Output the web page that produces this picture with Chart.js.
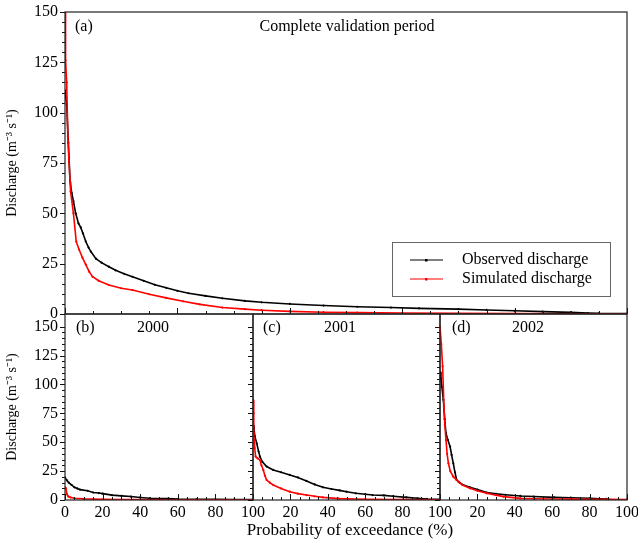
<!DOCTYPE html>
<html>
<head>
<meta charset="utf-8">
<script src="https://cdn.jsdelivr.net/npm/chart.js@4.4.1/dist/chart.umd.min.js"></script>
<style>
  body { margin:0; background:#fff; }
  #wrap { position:relative; width:638px; height:547px; overflow:hidden; }
  #wrap canvas { position:absolute; left:0; top:0; }
  #xt { position:absolute; left:200px; width:300px; top:520px; line-height:20px; text-align:center;
        font-family:"Liberation Serif", "Times New Roman", serif; font-size:17px; color:#000; }
</style>
</head>
<body>
<div id="wrap">
  <canvas id="ca" width="638" height="547"></canvas>
  <canvas id="cb" width="638" height="547"></canvas>
  <canvas id="cc" width="638" height="547"></canvas>
  <canvas id="cd" width="638" height="547"></canvas>
  <div id="xt"></div>
</div>
<script>
// ---------- texts ----------
const seriesNames = ['Observed discharge', 'Simulated discharge'];
const panelLabels = ['(a)', '(b)', '(c)', '(d)'];
const panelTitles = ['Complete validation period', '2000', '2001', '2002'];
const yTitle = 'Discharge (m\u207B\u00B3 s\u207B\u00B9)';
const xTitle = 'Probability of exceedance (%)';
const xTickStep = 20;
const yTickStep = 25;

// ---------- (a) complete validation period ----------
const pctObsA = [0, 0.1, 0.3, 0.6, 0.9, 1.2, 1.5, 1.9, 2.4, 2.8, 3.2, 3.7, 4.2, 4.6, 5.5, 6.5, 7.8, 9, 10.5, 12, 14, 16, 18, 20, 22, 25, 28, 32, 35, 40, 46, 52, 58, 63, 70, 75, 80, 85, 90, 93, 95, 100];
const obsA    = [111, 111, 104, 85, 66, 60, 56, 50, 45, 43, 40, 36, 33, 31, 27.5, 25.5, 23.5, 21.7, 20, 18.5, 16.5, 14.5, 13, 11.5, 10.3, 9, 7.8, 6.5, 5.8, 5, 4.2, 3.6, 3.2, 2.8, 2.4, 2, 1.6, 1.2, 0.8, 0.5, 0.3, 0.2];
const pctSimA = [0, 0.1, 0.3, 0.5, 0.7, 0.9, 1, 1.5, 2, 2.5, 3.1, 3.7, 4.3, 4.9, 6, 7.8, 10, 12, 15, 18, 21, 24, 28, 32, 35, 40, 46, 52, 60, 70, 80, 90, 100];
const simA    = [150, 126, 115, 88, 76.5, 65.7, 60.8, 50, 36, 32, 28, 24.5, 21, 18.5, 16.5, 14.4, 12.8, 11.9, 9.8, 8, 6.3, 4.8, 3.2, 2.4, 1.9, 1.3, 0.9, 0.7, 0.5, 0.35, 0.25, 0.15, 0.05];

// ---------- (b) 2000 ----------
const pctObsB = [0, 1, 2, 3.5, 5, 6.5, 8, 12, 15, 18, 20, 25, 30, 35, 40, 45, 55, 60, 70, 80, 90, 100];
const obsB    = [19.5, 17, 15, 13, 11, 10, 9, 8, 6.5, 6, 5.5, 4.2, 3.6, 3, 2.2, 1.5, 1.2, 0.8, 0.6, 0.5, 0.4, 0.3];
const pctSimB = [0, 0.5, 1, 1.8, 3, 5, 10, 20, 30, 40, 60, 80, 100];
const simB    = [11, 10, 5, 3, 2.2, 1.5, 1, 0.6, 0.4, 0.3, 0.2, 0.15, 0.1];

// ---------- (c) 2001 ----------
const pctObsC = [0, 0.5, 1, 2, 3, 3.7, 5, 7.3, 10.8, 15, 19.7, 24, 28.6, 33, 37.4, 42, 46.3, 50, 55, 60, 64, 70, 75, 82, 88, 93, 100];
const obsC    = [65, 62, 55, 49, 42, 37.6, 33, 29, 26, 24, 21.7, 19.5, 16.5, 13.5, 11, 9.5, 8.3, 7.2, 5.8, 5, 4.3, 4, 3.3, 2.3, 1.5, 0.9, 0.5];
const pctSimC = [0, 0.3, 0.5, 0.9, 1.4, 2.5, 3.7, 4.5, 5.5, 6.4, 7.3, 9, 10.8, 15, 19.7, 24, 28.6, 33, 37.4, 46, 60, 80, 100];
const simC    = [86.7, 75, 58, 45, 37.6, 36, 34.7, 30, 26, 21, 17.3, 15, 13, 10, 7.2, 5.5, 4.3, 3.2, 2.3, 1.2, 0.6, 0.4, 0.2];

// ---------- (d) 2002 ----------
const pctObsD = [0, 0.5, 1, 1.8, 2.5, 3.2, 4.2, 5.4, 6.2, 7.1, 8, 8.9, 10.5, 12.5, 16, 20, 25, 30, 35, 43, 50, 61, 70, 80, 89, 91, 100];
const obsD    = [111, 105, 98, 86.7, 70, 57.8, 52, 46.2, 39, 31.8, 24, 17.3, 15, 13, 11, 9, 6.4, 5.3, 4.5, 3.5, 3, 2.3, 2, 1.5, 0.9, 0.2, 0.2];
const pctSimD = [0, 0.7, 1.4, 2.1, 2.6, 3.2, 3.8, 4.5, 5.5, 7.1, 9.8, 12, 16, 20, 25, 30, 34, 43, 50, 60, 70, 80, 90, 100];
const simD    = [150, 135, 115.6, 81, 65, 52, 40, 31.8, 25, 20.2, 15.9, 13, 10.1, 8, 5.8, 4.2, 2.9, 1.4, 1.1, 0.9, 0.8, 0.7, 0.5, 0.3];

// ---------- helpers ----------
const FONT = '"Liberation Serif", "Times New Roman", serif';
Chart.defaults.font.family = FONT;
Chart.defaults.color = '#000';
const W = 638, H = 547;
const pts = (xs, ys) => xs.map((x, i) => ({ x: x, y: ys[i] }));

const deco = {
  id: 'deco',
  afterDraw(chart, args, o) {
    const ctx = chart.ctx, a = chart.chartArea;
    const xs = chart.scales.x, ys = chart.scales.y;
    ctx.save();
    ctx.strokeStyle = '#111';
    ctx.lineWidth = 1;
    ctx.beginPath();
    for (let v = 0; v <= 100 + 1e-9; v += 5) {
      const px = Math.round(xs.getPixelForValue(v)) + 0.5;
      const len = (v % xTickStep === 0) ? 6 : 3;
      ctx.moveTo(px, a.bottom); ctx.lineTo(px, a.bottom - len);
    }
    for (let v = 0; v <= 150 + 1e-9; v += 5) {
      const py = Math.round(ys.getPixelForValue(v)) + 0.5;
      const len = (v % yTickStep === 0) ? 5 : 3;
      ctx.moveTo(a.left, py); ctx.lineTo(a.left - len, py);
    }
    ctx.stroke();
    ctx.strokeStyle = '#222';
    ctx.lineWidth = 1.2;
    ctx.strokeRect(a.left, a.top, a.right - a.left, a.bottom - a.top);

    ctx.fillStyle = '#000';
    ctx.font = '16px ' + FONT;
    ctx.textBaseline = 'middle';
    ctx.textAlign = 'left';
    ctx.fillText(o.label, o.labelX, o.labelY);
    ctx.textAlign = 'center';
    ctx.fillText(o.title, o.titleX, o.labelY);

    if (o.legend) {
      ctx.strokeStyle = '#666';
      ctx.lineWidth = 1;
      ctx.strokeRect(392.5, 242.5, 218, 54);
      chart.data.datasets.slice().sort((p, q) => p.legendOrder - q.legendOrder).forEach((ds, i) => {
        const y = 260 + i * 19;
        ctx.strokeStyle = ds.borderColor;
        ctx.lineWidth = 1.2;
        ctx.beginPath(); ctx.moveTo(410, y); ctx.lineTo(443, y); ctx.stroke();
        ctx.fillStyle = ds.borderColor;
        ctx.fillRect(425, y - 1, 2.5, 2.5);
        ctx.fillStyle = '#000';
        ctx.textAlign = 'left';
        ctx.fillText(ds.label, 462, y);
      });
    }
    ctx.restore();
  }
};

function makeChart(id, p) {
  const yw = p.showY ? 65 : 0;
  const xh = H - p.area.bottom;
  new Chart(document.getElementById(id), {
    type: 'line',
    data: {
      datasets: [
        { label: seriesNames[1], legendOrder: 1, data: pts(p.pctSim, p.sim), borderColor: '#ff0000', backgroundColor: '#ff0000',
          borderWidth: 1.6, pointRadius: 1.1, pointBorderWidth: 0, pointBackgroundColor: '#ff0000', tension: 0, fill: false },
        { label: seriesNames[0], legendOrder: 0, data: pts(p.pctObs, p.obs), borderColor: '#000000', backgroundColor: '#000000',
          borderWidth: 1.6, pointRadius: 1.1, pointBorderWidth: 0, pointBackgroundColor: '#000000', tension: 0, fill: false }
      ]
    },
    options: {
      responsive: false,
      animation: false,
      devicePixelRatio: 1,
      layout: { padding: { left: p.area.left - yw, top: p.area.top, right: W - p.area.right, bottom: 0 } },
      plugins: {
        legend: { display: false },
        tooltip: { enabled: false },
        deco: p.deco
      },
      scales: {
        x: {
          type: 'linear', min: 0, max: 100,
          afterFit(s) { s.height = xh; s.paddingLeft = 0; s.paddingRight = 0; },
          grid: { display: false, drawTicks: false },
          border: { display: false },
          ticks: {
            display: p.showX, stepSize: xTickStep, autoSkip: false, maxRotation: 0, padding: 3,
            color: '#000', font: { family: FONT, size: 16 },
            callback: v => (p.hideZero && v === 0) ? '' : String(v)
          }
        },
        y: {
          type: 'linear', min: 0, max: p.yMax,
          afterFit(s) { s.width = yw; s.paddingTop = 0; s.paddingBottom = 0; },
          grid: { display: false, drawTicks: false },
          border: { display: false },
          ticks: {
            display: p.showY, stepSize: yTickStep, includeBounds: false, padding: 7,
            color: '#000', font: { family: FONT, size: 16 }
          },
          title: {
            display: p.showY, text: yTitle, color: '#000',
            font: { family: FONT, size: 14 }, padding: { top: 4, bottom: 0 }
          }
        }
      }
    },
    plugins: [deco]
  });
}

makeChart('ca', {
  area: { left: 65, top: 12, right: 627, bottom: 314 }, yMax: 150,
  showX: false, showY: true, hideZero: false,
  pctObs: pctObsA, obs: obsA, pctSim: pctSimA, sim: simA,
  deco: { label: panelLabels[0], labelX: 75, labelY: 27, title: panelTitles[0], titleX: 347, legend: true }
});
makeChart('cb', {
  area: { left: 65, top: 314, right: 253, bottom: 500 }, yMax: 161,
  showX: true, showY: true, hideZero: false,
  pctObs: pctObsB, obs: obsB, pctSim: pctSimB, sim: simB,
  deco: { label: panelLabels[1], labelX: 76, labelY: 328, title: panelTitles[1], titleX: 153, legend: false }
});
makeChart('cc', {
  area: { left: 253, top: 314, right: 440, bottom: 500 }, yMax: 161,
  showX: true, showY: false, hideZero: true,
  pctObs: pctObsC, obs: obsC, pctSim: pctSimC, sim: simC,
  deco: { label: panelLabels[2], labelX: 263, labelY: 328, title: panelTitles[2], titleX: 340, legend: false }
});
makeChart('cd', {
  area: { left: 440, top: 314, right: 627, bottom: 500 }, yMax: 161,
  showX: true, showY: false, hideZero: true,
  pctObs: pctObsD, obs: obsD, pctSim: pctSimD, sim: simD,
  deco: { label: panelLabels[3], labelX: 452, labelY: 328, title: panelTitles[3], titleX: 528, legend: false }
});
document.getElementById('xt').textContent = xTitle;
</script>
</body>
</html>
